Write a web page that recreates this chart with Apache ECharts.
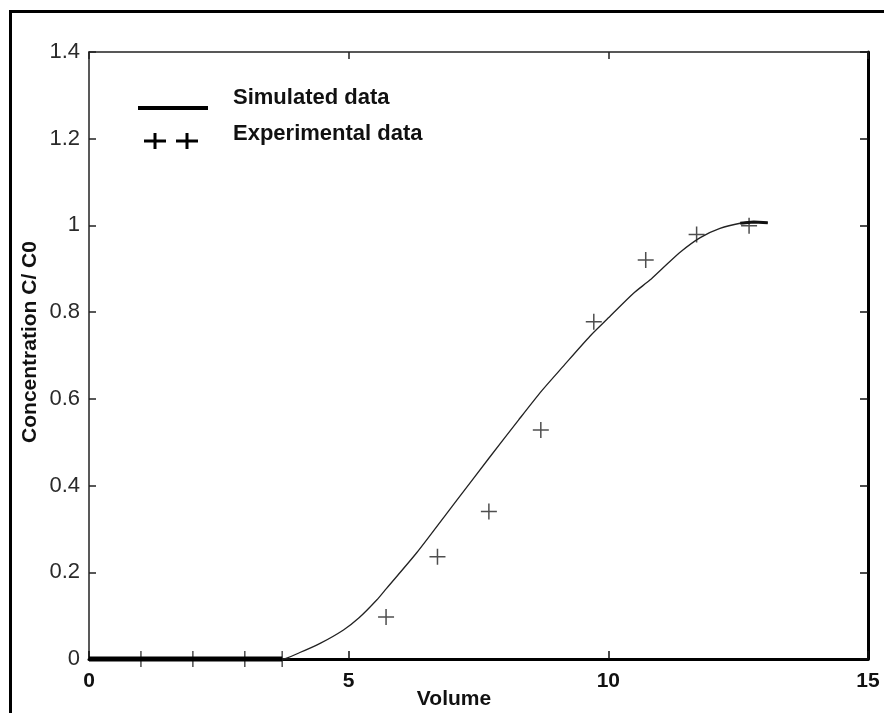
<!DOCTYPE html>
<html>
<head>
<meta charset="utf-8">
<script src="https://cdn.jsdelivr.net/npm/echarts@6/dist/echarts.min.js"></script>
<style>html,body{margin:0;padding:0;background:#fff;}#c{width:884px;height:713px;}</style>
</head>
<body>
<div id="c"></div>
<script>
// Simulated curve (Volume, C/C0)
const simX = [0, 1, 2, 3, 3.72, 4.06, 4.45, 4.9, 5.2, 5.54, 5.73, 6.31, 6.89, 7.08, 7.7, 8.27, 8.72, 9.13, 9.65, 9.97, 10.48, 10.8, 11.06, 11.4, 11.77, 12.15, 12.54, 12.8, 13.07];
const simY = [0, 0, 0, 0, 0, 0.015, 0.036, 0.067, 0.095, 0.136, 0.163, 0.245, 0.336, 0.366, 0.463, 0.551, 0.619, 0.675, 0.745, 0.783, 0.843, 0.874, 0.903, 0.94, 0.972, 0.993, 1.005, 1.008, 1.006];
// Thick-drawn portions of the simulated curve
const simThickStartX = [0, 3.72];
const simThickStartY = [0, 0];
const simThickEndX = [12.54, 12.8, 13.07];
const simThickEndY = [1.005, 1.008, 1.006];
// Experimental points
const expX = [1, 2, 3, 3.72, 5.72, 6.71, 7.70, 8.70, 9.72, 10.72, 11.70, 12.71];
const expY = [0, 0, 0, 0, 0.097, 0.236, 0.340, 0.528, 0.778, 0.920, 0.979, 0.999];
// Axis settings
const xTicks = [0, 5, 10, 15];
const yTicks = [0, 0.2, 0.4, 0.6, 0.8, 1, 1.2, 1.4];
const legendNames = ['Simulated data', 'Experimental data'];
const xName = 'Volume';
const yName = 'Concentration C/ C0';

const pair = (xs, ys) => xs.map((x, i) => [x, ys[i]]);
const plusPath = 'path://M7.25,0h1.5v7.25h7.25v1.5h-7.25v7.25h-1.5v-7.25h-7.25v-1.5h7.25z';
const FONT = '"Liberation Sans", Arial, sans-serif';

const chart = echarts.init(document.getElementById('c'), null, {renderer: 'canvas'});
const baseX = {
  type: 'value', min: xTicks[0], max: xTicks[xTicks.length - 1], interval: 5,
  splitLine: {show: false}
};
const baseY = {
  type: 'value', min: yTicks[0], max: yTicks[yTicks.length - 1], interval: 0.2,
  splitLine: {show: false}
};
chart.setOption({
  animation: false,
  backgroundColor: '#fff',
  grid: {left: 89, top: 52, right: 16, bottom: 54, containLabel: false},
  xAxis: [
    Object.assign({}, baseX, {
      position: 'bottom',
      axisLine: {onZero: false, lineStyle: {color: '#000', width: 3}},
      axisTick: {inside: true, length: 8, lineStyle: {color: '#111', width: 1.5}},
      axisLabel: {margin: 12, color: '#111', fontFamily: FONT, fontSize: 21, fontWeight: 'bold'}
    }),
    Object.assign({}, baseX, {
      position: 'top',
      axisLine: {onZero: false, lineStyle: {color: '#222', width: 1.5}},
      axisTick: {inside: true, length: 7, lineStyle: {color: '#222', width: 1.5}},
      axisLabel: {show: false}
    })
  ],
  yAxis: [
    Object.assign({}, baseY, {
      position: 'left',
      axisLine: {onZero: false, lineStyle: {color: '#222', width: 1.5}},
      axisTick: {inside: true, length: 7, lineStyle: {color: '#222', width: 1.5}},
      axisLabel: {margin: 9, color: '#2a2a2a', fontFamily: FONT, fontSize: 22,
        formatter: v => String(Math.round(v * 10) / 10)}
    }),
    Object.assign({}, baseY, {
      position: 'right',
      axisLine: {onZero: false, lineStyle: {color: '#000', width: 3}},
      axisTick: {inside: true, length: 8, lineStyle: {color: '#111', width: 1.5}},
      axisLabel: {show: false}
    })
  ],
  series: [
    {
      name: legendNames[0], type: 'line', data: pair(simX, simY),
      showSymbol: false, symbol: 'none', clip: false, smooth: 0.25,
      lineStyle: {color: '#222', width: 1.3}
    },
    {
      name: legendNames[0] + ' (start)', type: 'line', data: pair(simThickStartX, simThickStartY),
      showSymbol: false, symbol: 'none', clip: false,
      lineStyle: {color: '#000', width: 5}
    },
    {
      name: legendNames[0] + ' (end)', type: 'line', data: pair(simThickEndX, simThickEndY),
      showSymbol: false, symbol: 'none', clip: false,
      lineStyle: {color: '#111', width: 3}
    },
    {
      name: legendNames[1], type: 'scatter', data: pair(expX, expY),
      symbol: plusPath, symbolSize: 16, clip: false,
      itemStyle: {color: '#222'}
    }
  ],
  graphic: [
    {type: 'rect', silent: true, shape: {x: 10.5, y: 11.5, width: 1000, height: 900},
      style: {fill: 'none', stroke: '#000', lineWidth: 3}},
    // legend
    {type: 'line', silent: true, shape: {x1: 138, y1: 108, x2: 208, y2: 108},
      style: {stroke: '#000', lineWidth: 4}},
    {type: 'line', silent: true, shape: {x1: 144, y1: 141, x2: 166, y2: 141}, style: {stroke: '#000', lineWidth: 3}},
    {type: 'line', silent: true, shape: {x1: 155, y1: 133, x2: 155, y2: 149}, style: {stroke: '#000', lineWidth: 3}},
    {type: 'line', silent: true, shape: {x1: 176, y1: 141, x2: 198, y2: 141}, style: {stroke: '#000', lineWidth: 3}},
    {type: 'line', silent: true, shape: {x1: 187, y1: 133, x2: 187, y2: 149}, style: {stroke: '#000', lineWidth: 3}},
    {type: 'text', silent: true, x: 233, y: 98,
      style: {text: legendNames[0], fill: '#111', font: 'bold 22px ' + FONT, textAlign: 'left', textVerticalAlign: 'middle'}},
    {type: 'text', silent: true, x: 233, y: 134,
      style: {text: legendNames[1], fill: '#111', font: 'bold 22px ' + FONT, textAlign: 'left', textVerticalAlign: 'middle'}},
    // axis names
    {type: 'text', silent: true, x: 454, y: 699,
      style: {text: xName, fill: '#111', font: 'bold 21px ' + FONT, textAlign: 'center', textVerticalAlign: 'middle'}},
    {type: 'text', silent: true, x: 30, y: 342, rotation: Math.PI / 2,
      style: {text: yName, fill: '#111', font: 'bold 21px ' + FONT, textAlign: 'center', textVerticalAlign: 'middle'}}
  ]
});
</script>
</body>
</html>
